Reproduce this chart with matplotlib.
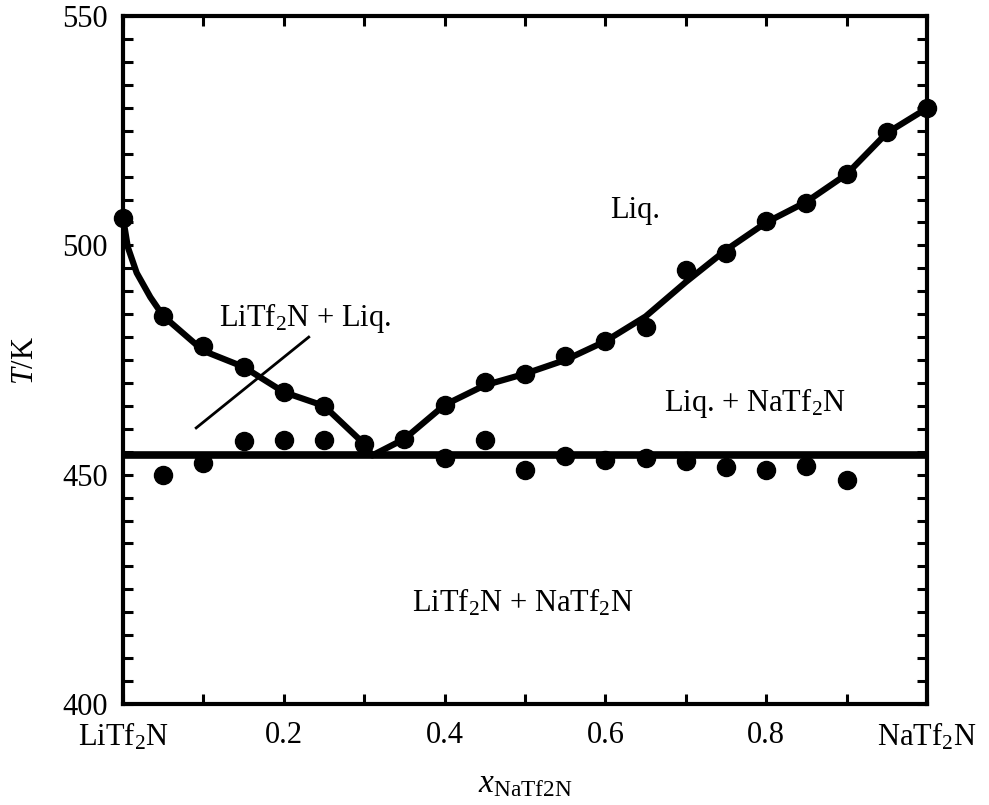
import matplotlib
matplotlib.use("Agg")
import matplotlib.pyplot as plt
from matplotlib.ticker import FixedLocator, MultipleLocator

plt.rcParams['font.family'] = ['Liberation Serif', 'DejaVu Serif']
plt.rcParams['mathtext.fontset'] = 'custom'
plt.rcParams['mathtext.rm'] = 'Liberation Serif'
plt.rcParams['mathtext.it'] = 'Liberation Serif:italic'

# liquidus measurements
x_liq = [0.0, 0.05, 0.10, 0.15, 0.20, 0.25, 0.30, 0.35, 0.40, 0.45, 0.50,
         0.55, 0.60, 0.65, 0.70, 0.75, 0.80, 0.85, 0.90, 0.95, 1.0]
t_liq = [506.0, 484.6, 478.0, 473.5, 468.0, 465.0, 456.7, 457.8, 465.2, 470.2, 472.0,
         475.9, 479.1, 482.2, 494.6, 498.3, 505.3, 509.2, 515.5, 524.7, 529.9]

# solidus (eutectic) measurements
x_sol = [0.05, 0.10, 0.15, 0.20, 0.25, 0.40, 0.45, 0.50, 0.55, 0.60, 0.65,
         0.70, 0.75, 0.80, 0.85, 0.90]
t_sol = [449.9, 452.5, 457.3, 457.6, 457.6, 453.6, 457.6, 451.0, 454.0, 453.2, 453.6,
         453.0, 451.7, 451.0, 451.9, 448.8]

# liquidus curve (drawn), passing through the eutectic point
x_curve = [0.0, 0.006, 0.017, 0.034, 0.05, 0.10, 0.15, 0.20, 0.25, 0.30, 0.31,
           0.35, 0.40, 0.45, 0.50, 0.55, 0.60, 0.65, 0.70, 0.75, 0.80, 0.85,
           0.90, 0.95, 1.0]
t_curve = [506.0, 499.6, 494.0, 488.7, 484.6, 477.0, 473.5, 468.0, 465.0, 456.7, 454.2,
           457.8, 465.2, 469.5, 472.0, 475.0, 479.1, 484.5, 492.0, 499.0, 505.0, 509.5,
           515.5, 524.5, 529.9]

t_eutectic = 454.2

# leader line for the "LiTf2N + Liq." label
x_leader = [0.091, 0.231]
t_leader = [460.2, 480.0]

fig = plt.figure(figsize=(9.89, 8.05), dpi=100)
ax = fig.add_axes([0.1244, 0.1255, 0.8129, 0.8545])

ax.axhline(t_eutectic, color='black', lw=5.5, zorder=2)
ax.plot(x_curve, t_curve, color='black', lw=4.5, solid_joinstyle='round',
        solid_capstyle='round', zorder=3)
ax.plot(x_liq, t_liq, 'o', color='black', ms=13, zorder=4, clip_on=False)
ax.plot(x_sol, t_sol, 'o', color='black', ms=13, zorder=4, clip_on=False)
ax.plot(x_leader, t_leader, color='black', lw=2, zorder=3)

fs = 22
ax.text(0.637, 507.7, 'Liq.', ha='center', va='center', fontsize=fs)
ax.text(0.226, 484.2, 'LiTf$_2$N + Liq.', ha='center', va='center', fontsize=fs)
ax.text(0.786, 465.6, 'Liq. + NaTf$_2$N', ha='center', va='center', fontsize=fs)
ax.text(0.4975, 422.0, 'LiTf$_2$N + NaTf$_2$N', ha='center', va='center', fontsize=fs)

ax.set_xlim(0, 1)
ax.set_ylim(400, 550)

xt = [i / 10 for i in range(11)]
xlabels = ['LiTf$_2$N', '', '0.2', '', '0.4', '', '0.6', '', '0.8', '', 'NaTf$_2$N']
ax.xaxis.set_major_locator(FixedLocator(xt))
ax.set_xticklabels(xlabels)
ax.yaxis.set_major_locator(MultipleLocator(50))
ax.yaxis.set_minor_locator(MultipleLocator(5))

ax.tick_params(which='both', direction='in', top=True, right=True,
               length=7, width=2.2, labelsize=fs)
ax.tick_params(axis='x', pad=12)
ax.tick_params(axis='y', pad=11)
for s in ax.spines.values():
    s.set_linewidth(3)

ax.set_ylabel('$T$/K', fontsize=fs, labelpad=16)
ax.set_xlabel('$x_{\\mathrm{NaTf2N}}$', fontsize=fs + 2, labelpad=12)

fig.savefig('out.png', dpi=100)
